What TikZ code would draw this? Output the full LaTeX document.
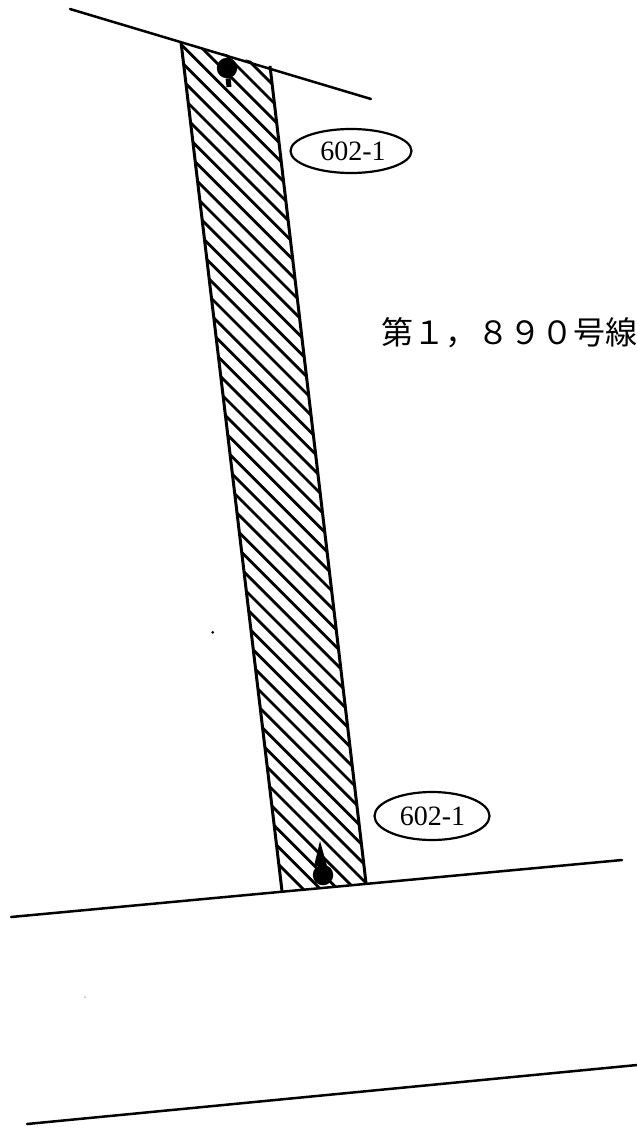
\documentclass[tikz,border=0pt]{standalone}
\usepackage{fontspec}
\setmainfont{Liberation Serif}
\newfontfamily\cjk{Noto Sans CJK JP}
\usetikzlibrary{shapes.geometric}
\tikzset{
  road/.style={line width=2.5pt,line cap=round},
  edgeline/.style={line width=3pt},
  hatchline/.style={line width=2.8pt},
  tag/.style={ellipse,draw,line width=2.2pt,minimum width=#1,inner sep=0pt,font=\fontsize{28}{28}\selectfont},
  mark dot/.style={circle,fill=black,inner sep=0pt,minimum size=20.5pt},
  speck/.style={circle,fill=black,inner sep=0pt,minimum size=3pt}
}
\begin{document}
\begin{tikzpicture}[x=1pt,y=-1pt]
\useasboundingbox (0,0) rectangle (637,1127);
\coordinate (tl) at (181,42);
\coordinate (tr) at (270,66);
\coordinate (br) at (366,883);
\coordinate (bl) at (282,891);
\begin{scope}
\clip (tl) -- (tr) -- (br) -- (bl) -- cycle;
\foreach \k in {-4,...,50}{
  \pgfmathsetmacro{\c}{517-17.2*\k}
  \draw[hatchline] (150,150+\c) -- (400,400+\c);
}
\end{scope}
\draw[edgeline] (tl) -- (bl);
\draw[edgeline] (tr) -- (br);
\coordinate (a1) at (70,9);
\coordinate (a2) at (371,99);
\coordinate (b1) at (11,917);
\coordinate (b2) at (622,860);
\coordinate (c1) at (27,1124);
\coordinate (c2) at (637,1065);
\draw[road] (a1) -- (a2);
\draw[road] (b1) -- (b2);
\draw[road] (c1) -- (c2);
\node[tag=121pt,minimum height=44pt] (t1) at (351,151) {\hspace*{4pt}602-1};
\node[tag=115pt,minimum height=48pt] (t2) at (432,816) {\hspace*{1pt}602-1};
\node[mark dot] (m1) at (227,68) {};
\coordinate (m1s) at (229,87);
\draw[line width=5pt] (m1) -- (m1s);
\node[mark dot] (m2) at (323,875) {};
\fill (320,841) -- (327,866) -- (314,866) -- cycle;
\node[anchor=center,font=\cjk\fontsize{32}{32}\selectfont,inner sep=0pt] (lab) at (509,333) {第１，８９０号線};
\node[speck] (s1) at (212.7,632.3) {};
\node[speck,minimum size=1.5pt,fill=gray] (s2) at (85,997) {};
\end{tikzpicture}
\end{document}
